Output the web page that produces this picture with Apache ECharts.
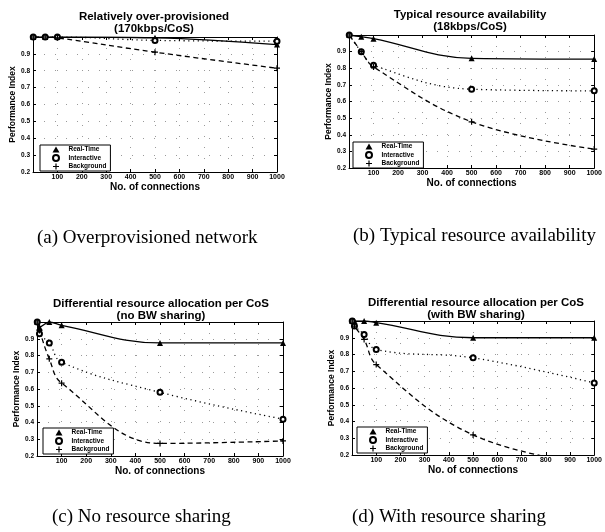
<!DOCTYPE html>
<html><head><meta charset="utf-8">
<script src="https://cdn.jsdelivr.net/npm/echarts@6/dist/echarts.min.js"></script>
<style>html,body{margin:0;padding:0;background:#fff}#c{width:605px;height:532px}</style>
</head><body><div id="c"></div>
<script>
// ---------- data ----------
const seriesNames = ['Real-Time', 'Interactive', 'Background'];
const xConn = [1, 50, 100, 500, 1000];
const xConnFine = [1, 10, 50, 100, 500, 1000];
const xTickLabels = ['100','200','300','400','500','600','700','800','900','1000'];
const yTickLabels = ['0.2','0.3','0.4','0.5','0.6','0.7','0.8','0.9'];

const rtA  = [1.0, 1.0, 1.0, 0.995, 0.955];
const intA = [1.0, 1.0, 1.0, 0.98, 0.975];
const bgA  = [1.0, 1.0, 0.995, 0.91, 0.815];

const rtB  = [1.0, 0.99, 0.978, 0.86, 0.855];
const intB = [1.0, 0.90, 0.818, 0.674, 0.664];
const bgB  = [1.0, 0.90, 0.808, 0.478, 0.314];

const rtC  = [1.0, 0.97, 1.0, 0.98, 0.875, 0.875];
const intC = [1.0, 0.93, 0.875, 0.76, 0.58, 0.42];
const bgC  = [1.0, 0.95, 0.78, 0.635, 0.275, 0.29];

const rtD  = [1.0, 1.0, 1.0, 0.99, 0.90, 0.90];
const intD = [1.0, 0.97, 0.92, 0.83, 0.78, 0.63];
const bgD  = [1.0, 0.97, 0.89, 0.74, 0.32, 0.14];

const panelTitles = [
  'Relatively over-provisioned\n(170kbps/CoS)',
  'Typical resource availability\n(18kbps/CoS)',
  'Differential resource allocation per CoS\n(no BW sharing)',
  'Differential resource allocation per CoS\n(with BW sharing)'
];
const captions = [
  '(a) Overprovisioned network',
  '(b) Typical resource availability',
  '(c) No resource sharing',
  '(d) With resource sharing'
];
const xAxisName = 'No. of connections';
const yAxisName = 'Performance Index';

// ---------- layout ----------
const panels = [
  { x: xConn,     rt: rtA, it: intA, bg: bgA },
  { x: xConn,     rt: rtB, it: intB, bg: bgB },
  { x: xConnFine, rt: rtC, it: intC, bg: bgC },
  { x: xConnFine, rt: rtD, it: intD, bg: bgD }
];
const grids = [
  { left: 33,  top: 37,  width: 244, height: 135 },
  { left: 349, top: 35,  width: 246, height: 133 },
  { left: 37,  top: 322, width: 246, height: 134 },
  { left: 352, top: 321, width: 249, height: 134 }
];
const titlePos = [[154, 23], [470, 21], [161, 310], [476, 309]];
const captionPos = [[37, 238], [353, 236], [52, 517], [352, 517]];
const legendPos = [[40, 145], [353, 142], [43, 428], [357, 427]];

const FONT = 'Liberation Sans, Arial, sans-serif';
const plusPath = 'path://M4,0H6V4H10V6H6V10H4V6H0V4H4Z';
const gridLine = { show: true, lineStyle: { color: '#9a9a9a', width: 1, type: [1, 10] } };

const option = {
  animation: false,
  backgroundColor: '#fff',
  grid: grids.map(g => Object.assign({ containLabel: false }, g)),
  xAxis: [], yAxis: [], series: [], legend: [], graphic: []
};

panels.forEach((p, i) => {
  const xi = option.xAxis.length, yi = option.yAxis.length;
  option.xAxis.push({
    type: 'value', gridIndex: i, min: 0, max: 1000, interval: 100,
    position: 'bottom',
    name: xAxisName, nameLocation: 'middle', nameGap: 7,
    nameTextStyle: { fontFamily: FONT, fontWeight: 'bold', fontSize: 10, color: '#000' },
    axisLine: { show: true, onZero: false, lineStyle: { color: '#000', width: 1 } },
    axisTick: { show: true, inside: true, length: 3, lineStyle: { color: '#000' } },
    axisLabel: {
      margin: 2, fontFamily: FONT, fontWeight: 'bold', fontSize: 7, color: '#000',
      formatter: v => { const s = String(Math.round(v)); return xTickLabels.indexOf(s) >= 0 ? s : ''; }
    },
    splitLine: gridLine
  });
  option.xAxis.push({
    type: 'value', gridIndex: i, min: 0, max: 1000, interval: 100, position: 'top',
    axisLine: { show: true, onZero: false, lineStyle: { color: '#000', width: 1 } },
    axisTick: { show: true, inside: true, length: 3, lineStyle: { color: '#000' } },
    axisLabel: { show: false }, splitLine: { show: false }
  });
  option.yAxis.push({
    type: 'value', gridIndex: i, min: 0.2, max: 1.0, interval: 0.1, position: 'left',
    name: yAxisName, nameLocation: 'middle', nameGap: 16,
    nameTextStyle: { fontFamily: FONT, fontWeight: 'bold', fontSize: 8.5, color: '#000' },
    axisLine: { show: true, onZero: false, lineStyle: { color: '#000', width: 1 } },
    axisTick: { show: true, inside: true, length: 3, lineStyle: { color: '#000' } },
    axisLabel: {
      margin: 3, fontFamily: FONT, fontWeight: 'bold', fontSize: 6.5, color: '#000',
      formatter: v => { const s = (Math.round(v * 10) / 10).toFixed(1); return yTickLabels.indexOf(s) >= 0 ? s : ''; }
    },
    splitLine: gridLine
  });
  option.yAxis.push({
    type: 'value', gridIndex: i, min: 0.2, max: 1.0, interval: 0.1, position: 'right',
    axisLine: { show: true, onZero: false, lineStyle: { color: '#000', width: 1 } },
    axisTick: { show: true, inside: true, length: 3, lineStyle: { color: '#000' } },
    axisLabel: { show: false }, splitLine: { show: false }
  });

  const mk = (name, ys, lineType, symbol, size) => ({
    name, type: 'line', xAxisIndex: xi, yAxisIndex: yi,
    data: p.x.map((x, k) => [x, ys[k]]),
    smooth: 0.4, clip: true,
    symbol, symbolSize: size, showSymbol: true,
    lineStyle: { color: '#000', width: 1.3, type: lineType },
    itemStyle: { color: '#000', borderColor: '#000', borderWidth: symbol === 'emptyCircle' ? 1.3 : 0 },
    z: 3
  });
  option.series.push(mk(seriesNames[0], p.rt, 'solid', 'triangle', 6));
  option.series.push(mk(seriesNames[1], p.it, [1.2, 3.5], 'emptyCircle', 5));
  option.series.push(mk(seriesNames[2], p.bg, [5, 3.5], plusPath, 6));

  option.legend.push({
    left: legendPos[i][0], top: legendPos[i][1], orient: 'vertical',
    selectedMode: false,
    backgroundColor: '#fff', borderColor: '#000', borderWidth: 1,
    padding: [1, 4, 1, 12], itemGap: 1, itemWidth: 7, itemHeight: 6,
    textStyle: { fontFamily: FONT, fontWeight: 'bold', fontSize: 6.5, color: '#000', padding: [0, 0, 0, 4] },
    data: [
      { name: seriesNames[0], icon: 'triangle' },
      { name: seriesNames[1], icon: 'emptyCircle' },
      { name: seriesNames[2], icon: plusPath }
    ],
    itemStyle: { color: '#000', borderColor: '#000' }
  });

  option.graphic.push({
    type: 'text', x: titlePos[i][0], y: titlePos[i][1],
    style: { text: panelTitles[i], fill: '#000', font: 'bold 11.5px ' + FONT,
             align: 'center', verticalAlign: 'middle', lineHeight: 12 }
  });
  option.graphic.push({
    type: 'text', x: captionPos[i][0], y: captionPos[i][1],
    style: { text: captions[i], fill: '#000', font: '19px Liberation Serif, Times New Roman, serif',
             align: 'left', verticalAlign: 'middle' }
  });
});

const chart = echarts.init(document.getElementById('c'), null, { renderer: 'canvas' });
chart.setOption(option);
</script>
</body></html>
